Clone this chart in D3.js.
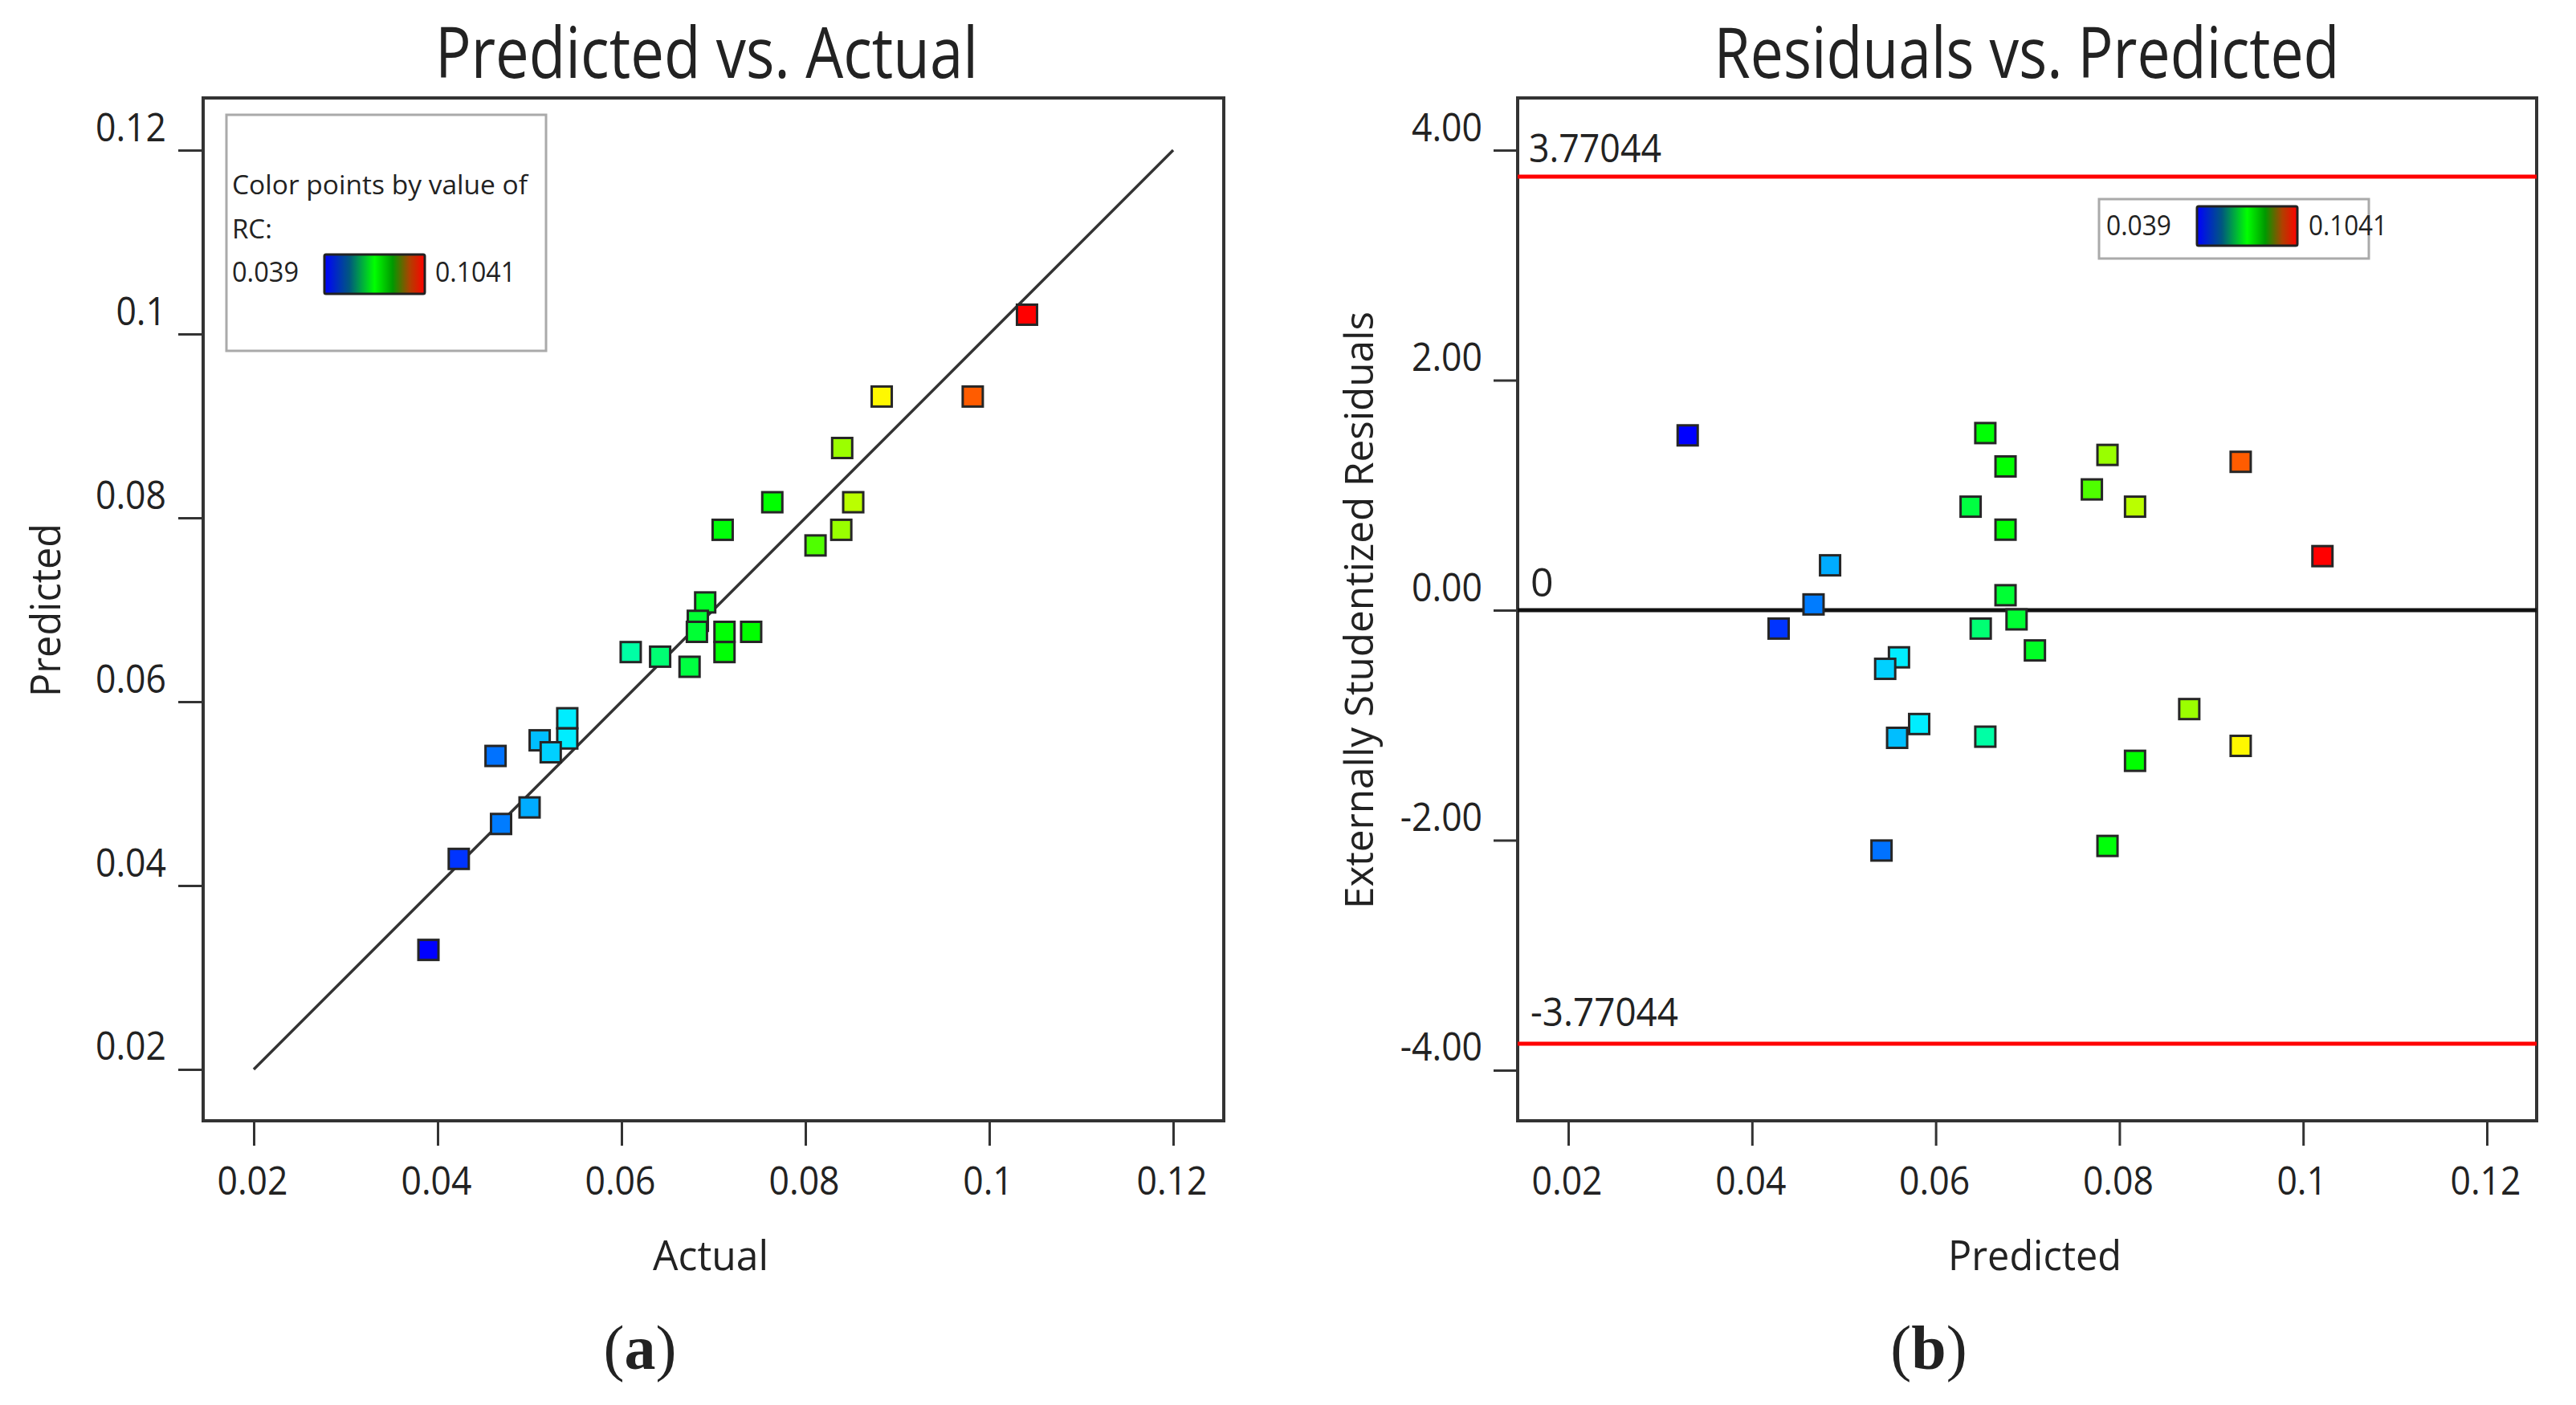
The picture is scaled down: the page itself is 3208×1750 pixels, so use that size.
<!DOCTYPE html>
<html>
<head>
<meta charset="utf-8">
<script src="https://cdn.jsdelivr.net/npm/d3@7"></script>
<style>
   body { margin: 0; background: #fff; }
   text { font-family: "Open Sans", sans-serif; fill: #222; }
</style>
</head>
<body>
<div class="visHolder"></div>
<script>
// runs (actual RC, predicted RC, ext. studentized residual)
const actual = [0.1041, 0.0883, 0.0982, 0.0840, 0.0764, 0.0852, 0.0710, 0.0839, 0.0811, 0.0691,
   0.0683, 0.0682, 0.0712, 0.0741, 0.0712, 0.0610, 0.0642, 0.0674, 0.0541, 0.0541,
   0.0511, 0.0523, 0.0463, 0.0500, 0.0469, 0.0423, 0.0390];
const predicted = [0.1021, 0.0932, 0.0932, 0.0876, 0.0817, 0.0817, 0.0787, 0.0787, 0.0770, 0.0708,
   0.0688, 0.0676, 0.0676, 0.0676, 0.0654, 0.0654, 0.0649, 0.0638, 0.0582, 0.0560,
   0.0558, 0.0545, 0.0541, 0.0485, 0.0467, 0.0429, 0.0330];
const residuals = [0.47, -1.18, 1.29, -0.86, -1.31, 0.90, -2.05, 1.35, 1.05, -0.35,
   -0.08, 0.13, 0.70, 1.25, 1.54, -1.10, -0.16, 0.90, -0.99, -0.41,
   -1.11, -0.51, -2.09, 0.39, 0.05, -0.16, 1.52];

const rcTicks = [0.02, 0.04, 0.06, 0.08, 0.1, 0.12];
const rcTickLabels = ["0.02", "0.04", "0.06", "0.08", "0.1", "0.12"];
const resTicks = [4, 2, 0, -2, -4];
const resTickLabels = ["4.00", "2.00", "0.00", "-2.00", "-4.00"];
const limit = 3.77044;
const rcRange = [0.039, 0.1041];

const svg = d3.select(".visHolder")
   .append("svg")
   .attr("width", 3208)
   .attr("height", 1750);

// colour by RC: blue -> cyan -> green -> yellow -> red
const span = rcRange[1] - rcRange[0];
const color = d3.scaleLinear()
   .domain([0, 0.25, 0.5, 0.6, 0.75, 1].map(t => rcRange[0] + t * span))
   .range(["#0000ff", "#00ffff", "#00ff00", "#00ff00", "#ffff00", "#ff0000"]);

const defs = svg.append("defs");
const grad = defs.append("linearGradient").attr("id", "rcgrad");
[[0, "#0000ff"], [0.25, "#00587e"], [0.5, "#00ff00"], [0.68, "#009800"], [0.85, "#b04000"], [1, "#ff0000"]]
   .forEach(s => grad.append("stop").attr("offset", s[0]).attr("stop-color", s[1]));

function txt(x, y, s, size, len, anchor) {
   const t = svg.append("text")
      .attr("x", x)
      .attr("y", y)
      .attr("font-size", size)
      .attr("text-anchor", anchor || "start")
      .text(s);
   if (len) t.attr("textLength", len).attr("lengthAdjust", "spacingAndGlyphs");
   return t;
}

function frame(x0, x1, y0, y1) {
   svg.append("rect")
      .attr("x", x0).attr("y", y0)
      .attr("width", x1 - x0).attr("height", y1 - y0)
      .attr("fill", "none")
      .attr("stroke", "#333")
      .attr("stroke-width", 4);
}

function styleAxis(g, tr, anchor) {
   g.select(".domain").remove();
   g.selectAll(".tick line").attr("stroke", "#333").attr("stroke-width", 3);
   g.selectAll(".tick text")
      .attr("x", 0).attr("y", 0).attr("dy", 0)
      .attr("font-size", 50)
      .attr("font-family", "'Open Sans', sans-serif")
      .attr("fill", "#222")
      .attr("text-anchor", anchor)
      .attr("transform", tr + " scale(0.89,1)");
}

function marker(g, x, y, c) {
   g.append("rect")
      .attr("x", x - 12.5).attr("y", y - 12.5)
      .attr("width", 25).attr("height", 25)
      .attr("fill", c)
      .attr("stroke", "#262626")
      .attr("stroke-width", 3);
}

function legend(x0, y0, w, h, gx, gy) {
   svg.append("rect")
      .attr("x", x0).attr("y", y0).attr("width", w).attr("height", h)
      .attr("fill", "#fff").attr("stroke", "#aaa").attr("stroke-width", 3);
   svg.append("rect")
      .attr("x", gx).attr("y", gy).attr("width", 125).attr("height", 49)
      .attr("rx", 2)
      .attr("fill", "url(#rcgrad)").attr("stroke", "#222").attr("stroke-width", 3);
}

function panelLabel(x, letter) {
   const t = svg.append("text")
      .attr("x", x).attr("y", 1705)
      .attr("text-anchor", "middle")
      .attr("font-size", 78)
      .style("font-family", "'Liberation Serif', serif")
      .attr("fill", "#000");
   t.append("tspan").text("(");
   t.append("tspan").attr("font-weight", "bold").text(letter);
   t.append("tspan").text(")");
}

// ---------- (a) Predicted vs. Actual ----------
const xA = d3.scaleLinear().domain([0.0145, 0.1255]).range([253, 1524]);
const yA = d3.scaleLinear().domain([0.01441, 0.12568]).range([1396, 122]);

frame(253, 1524, 122, 1396);

svg.append("line")
   .attr("x1", xA(0.02)).attr("y1", yA(0.02))
   .attr("x2", xA(0.12)).attr("y2", yA(0.12))
   .attr("stroke", "#333")
   .attr("stroke-width", 3.5);

const gA = svg.append("g");
actual.forEach((a, i) => marker(gA, xA(a), yA(predicted[i]), color(a)));

svg.append("g")
   .attr("transform", "translate(253,0)")
   .call(d3.axisLeft(yA).tickValues(rcTicks).tickSize(31).tickSizeOuter(0)
      .tickFormat((d, i) => rcTickLabels[i]))
   .call(g => styleAxis(g, "translate(-46,-12)", "end"));
svg.append("g")
   .attr("transform", "translate(0,1396)")
   .call(d3.axisBottom(xA).tickValues(rcTicks).tickSize(31).tickSizeOuter(0)
      .tickFormat((d, i) => rcTickLabels[i]))
   .call(g => styleAxis(g, "translate(-2,92)", "middle"));

legend(282, 143, 398, 294, 404, 317);
txt(289, 242, "Color points by value of", 33, 368).attr("fill", "#333");
txt(289, 297, "RC:", 33).attr("fill", "#333");
txt(289, 351, String(rcRange[0]), 35, 83).attr("fill", "#333");
txt(542, 351, String(rcRange[1]), 35, 100).attr("fill", "#333");

txt(880, 97, "Predicted vs. Actual", 88, 676, "middle").attr("fill", "#111");
txt(885, 1582, "Actual", 52, 144, "middle");
txt(0, 0, "Predicted", 52, 216, "middle").attr("transform", "translate(75,760) rotate(-90)");

panelLabel(797, "a");

// ---------- (b) Residuals vs. Predicted ----------
const xB = d3.scaleLinear().domain([0.01449, 0.12542]).range([1890, 3159]);
const yB = d3.scaleLinear().domain([-4.44, 4.454]).range([1396, 122]);

frame(1890, 3159, 122, 1396);

[limit, -limit].forEach(v => {
   svg.append("line")
      .attr("x1", 1890).attr("x2", 3159)
      .attr("y1", yB(v)).attr("y2", yB(v))
      .attr("stroke", "#ff0000")
      .attr("stroke-width", 5);
});
svg.append("line")
   .attr("x1", 1890).attr("x2", 3159)
   .attr("y1", yB(0)).attr("y2", yB(0))
   .attr("stroke", "#111")
   .attr("stroke-width", 5);

txt(1904, yB(limit) - 18, String(limit), 50, 165);
txt(1906, yB(0) - 17, "0", 50);
txt(1906, yB(-limit) - 22, "-" + limit, 50, 184);

const gB = svg.append("g");
predicted.forEach((p, i) => marker(gB, xB(p), yB(residuals[i]), color(actual[i])));

svg.append("g")
   .attr("transform", "translate(1890,0)")
   .call(d3.axisLeft(yB).tickValues(resTicks).tickSize(30).tickSizeOuter(0)
      .tickFormat((d, i) => resTickLabels[i]))
   .call(g => styleAxis(g, "translate(-44,-12)", "end"));
svg.append("g")
   .attr("transform", "translate(0,1396)")
   .call(d3.axisBottom(xB).tickValues(rcTicks).tickSize(31).tickSizeOuter(0)
      .tickFormat((d, i) => rcTickLabels[i]))
   .call(g => styleAxis(g, "translate(-2,92)", "middle"));

legend(2614, 248, 336, 74, 2736, 257);
txt(2623, 293, String(rcRange[0]), 35, 81).attr("fill", "#333");
txt(2875, 293, String(rcRange[1]), 35, 98).attr("fill", "#333");

txt(2524, 97, "Residuals vs. Predicted", 88, 779, "middle").attr("fill", "#111");
txt(2534, 1582, "Predicted", 52, 216, "middle");
txt(0, 0, "Externally Studentized Residuals", 50, 744, "middle")
   .attr("transform", "translate(1710,760) rotate(-90)");

panelLabel(2402, "b");
</script>
</body>
</html>
